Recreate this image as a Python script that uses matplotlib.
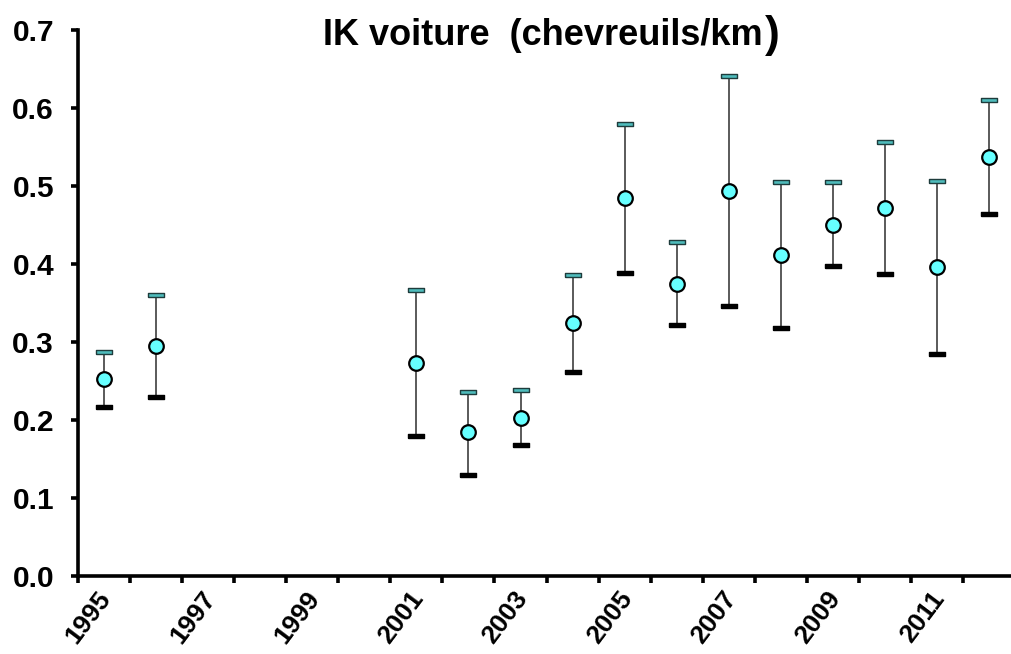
import numpy as np
import matplotlib.pyplot as plt
from matplotlib.ticker import FixedLocator, NullFormatter
from matplotlib.transforms import ScaledTranslation

nan = np.nan

years = list(range(1995, 2013))
ik_mean = [0.252, 0.295, nan, nan, nan, nan, 0.273, 0.184, 0.203,
           0.324, 0.484, 0.375, 0.494, 0.411, 0.450, 0.472, 0.396, 0.537]
ik_low = [0.217, 0.230, nan, nan, nan, nan, 0.179, 0.130, 0.168,
          0.262, 0.388, 0.322, 0.346, 0.318, 0.397, 0.387, 0.284, 0.464]
ik_high = [0.287, 0.360, nan, nan, nan, nan, 0.367, 0.236, 0.238,
           0.386, 0.579, 0.428, 0.641, 0.505, 0.505, 0.556, 0.506, 0.610]
tick_years = [str(y) if (y - 1995) % 2 == 0 else "" for y in years]

plt.rcParams['font.family'] = ['Liberation Sans', 'DejaVu Sans']
plt.rcParams['font.weight'] = 'bold'

fig = plt.figure(figsize=(10.11, 6.54), dpi=100)
ax = fig.add_axes([77.7 / 1011, 78 / 654, (1015.4 - 77.7) / 1011, 546 / 654])

x = np.arange(len(years))
mean = np.array(ik_mean)
low = np.array(ik_low)
high = np.array(ik_high)
ok = ~np.isnan(mean)

# whiskers
ax.vlines(x[ok], low[ok], high[ok], color='#2e2e2e', lw=1.1, zorder=2)

# flat caps
cap = [(-1, -0.28), (1, -0.28), (1, 0.28), (-1, 0.28), (-1, -0.28)]
ax.plot(x[ok], high[ok], ls='none', marker=cap, ms=11, mfc='#4fbcbc',
        mec='#1e3c3c', mew=1.0, zorder=3)
ax.plot(x[ok], low[ok], ls='none', marker=cap, ms=11, mfc='black',
        mec='black', mew=1.0, zorder=3)

# means
ax.plot(x[ok], mean[ok], ls='none', marker='o', ms=10.5, mfc='#66ffff',
        mec='black', mew=1.6, zorder=4)

ax.set_xlim(-0.5, len(years) - 0.5)
ax.set_ylim(0, 0.7)

for s in ['top', 'right']:
    ax.spines[s].set_visible(False)
for s in ['left', 'bottom']:
    ax.spines[s].set_linewidth(2.6)

ax.set_yticks(np.arange(0, 0.71, 0.1))
ax.set_yticklabels([f"{v:.1f}" for v in np.arange(0, 0.71, 0.1)],
                   fontsize=21.5, fontweight='bold')
ax.tick_params(axis='y', direction='out', length=5, width=2.6, pad=12)

ax.set_xticks(x)
ax.set_xticklabels(tick_years, fontsize=19, fontweight='bold', rotation=53,
                   ha='right', va='top', rotation_mode='anchor')
ax.tick_params(axis='x', which='major', length=0, pad=8)
shift = ScaledTranslation(-7 / 100, 0, fig.dpi_scale_trans)
for lab in ax.get_xticklabels():
    lab.set_transform(lab.get_transform() + shift)
ax.xaxis.set_minor_locator(FixedLocator(np.arange(-0.5, len(years), 1.0)))
ax.xaxis.set_minor_formatter(NullFormatter())
ax.tick_params(axis='x', which='minor', direction='out', length=5, width=2.6)

fig.text(0.754, 0.931, "IK voiture  (chevreuils/km", fontsize=26,
         fontweight='bold', ha='right', va='baseline')
fig.text(0.757, 0.928, ")", fontsize=32, fontweight='bold',
         ha='left', va='baseline')

fig.savefig('out.png', dpi=100)
